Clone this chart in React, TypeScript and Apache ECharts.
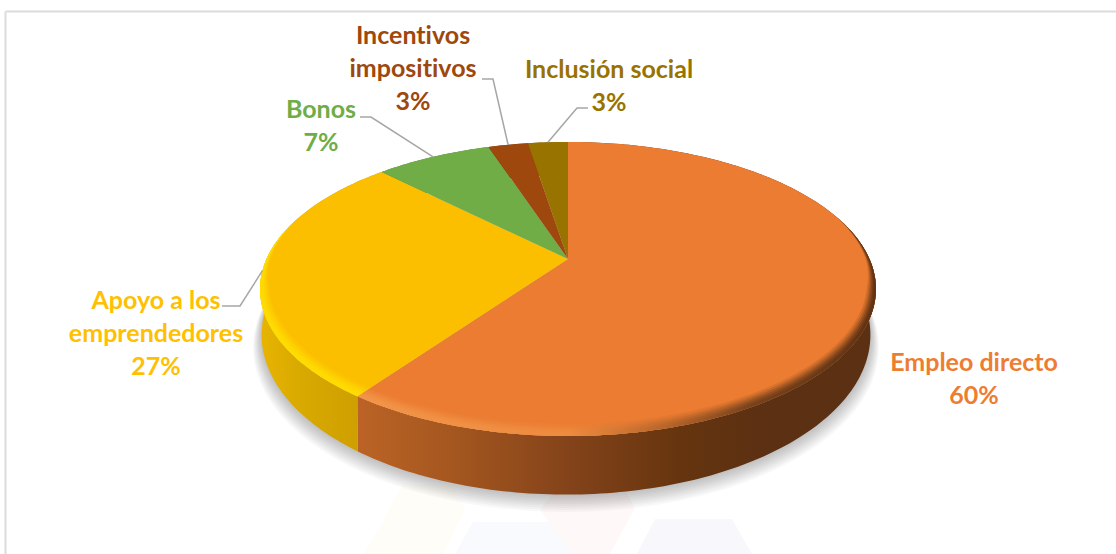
import React, { useEffect, useRef } from "react";
import * as echarts from "echarts";

const categories = ["Empleo directo", "Apoyo a los\nemprendedores", "Bonos", "Incentivos\nimpositivos", "Inclusión social"];
const values = [59.9, 27.6, 7.4, 2.55, 2.55];
const percentLabels = ["60%", "27%", "7%", "3%", "3%"];
const colors = ["#EB7C31", "#FBBF00", "#70AD47", "#9E480E", "#997300"];
const labelColors = ["#ED7D31", "#FFC000", "#70AD47", "#9E480E", "#997300"];

// Layout of the tilted disc: a circle under a perspective map
const CX = 568, TOP_CY = 259, A = 301.5, B = 140.9, K = -0.204;
const BOTTOM_CX = 566, BOTTOM_CY = 302.4, BOTTOM_A = 298, BOTTOM_B = 153;
const FONT = "Lato, Carlito, sans-serif";
const TOTAL = values.reduce((s, v) => s + v, 0);
// Slices run clockwise from 12 o'clock
const starts: number[] = [];
values.reduce((acc, v, i) => { starts[i] = acc; return acc + (v / TOTAL) * 360; }, 0);

const labelPos = [
  { x: 974, y: 377 }, { x: 156, y: 332 }, { x: 321, y: 124 }, { x: 413, y: 67 }, { x: 609, y: 84 },
];
const elbows: (number[][] | null)[] = [
  null,
  [[222, 306], [240, 306]],
  [[360, 117], [371, 117]],
  [[482, 79], [493, 79]],
  [[588, 108], [577, 108]],
];

const wallStops = [
  [[0, "#bb6326"], [0.16, "#bb6326"], [0.31, "#a5571f"], [0.5, "#84431a"], [0.68, "#66350f"], [0.81, "#5c3012"], [1, "#5c3012"]],
  [[0, "#e8b400"], [0.06, "#d9aa00"], [0.16, "#cf9f00"], [1, "#cf9f00"]],
  [[0, "#5a8a38"], [1, "#5a8a38"]],
  [[0, "#7a380b"], [1, "#7a380b"]],
  [[0, "#7a5c00"], [1, "#7a5c00"]],
];
const rimStops = [
  [[0, "#f0924a"], [0.16, "#f2964a"], [0.5, "#ee8c40"], [0.66, "#b5642a"], [0.8, "#74401a"], [1, "#5c3012"]],
  [[0, "#ffdc00"], [1, "#ffdc00"]],
  [[0, "#84c455"], [1, "#84c455"]],
  [[0, "#b0581a"], [1, "#b0581a"]],
  [[0, "#aa8400"], [1, "#aa8400"]],
];
const rimLayers = [[1.0, 0.15], [0.85, 0.2], [0.7, 0.3], [0.55, 0.4], [0.4, 0.55], [0.25, 0.75]];

const rad = (d: number) => (d * Math.PI) / 180;
function topPoint(phi: number, r: number) {
  const x = r * Math.sin(rad(phi));
  const y = -r * Math.cos(rad(phi));
  const d = 1 + K * y;
  return [CX + (A * x) / d, TOP_CY + (B * y) / d];
}
function bottomPoint(phi: number, r: number) {
  const x = r * Math.sin(rad(phi));
  const y = -r * Math.cos(rad(phi));
  const d = 1 + K * y;
  return [BOTTOM_CX + (BOTTOM_A * x) / d, BOTTOM_CY + (BOTTOM_B * y) / d];
}
function arcAngles(a0: number, a1: number, stepDeg = 1) {
  const n = Math.max(2, Math.ceil((a1 - a0) / stepDeg));
  const out: number[] = [];
  for (let i = 0; i <= n; i++) out.push(a0 + ((a1 - a0) * i) / n);
  return out;
}
const hGrad = (stops: any[]) => ({
  type: "linear", x: 260, y: 0, x2: 876, y2: 0, global: true,
  colorStops: stops.map(([offset, color]) => ({ offset, color })),
});

function rimWidth(phi: number) {
  const y = -Math.cos(rad(phi));
  const t = Math.min(1, Math.max(0, (y + 0.3) / 0.5));
  return t * (0.022 + 0.035 * Math.max(0, y));
}

function renderShadow() {
  const children: any[] = [];
  for (let j = 9; j >= 1; j--) {
    const pts = arcAngles(0, 360, 3).map((p) => {
      const q = bottomPoint(p, 1 + j * 0.003);
      return [q[0], q[1] + j * 1.2];
    });
    children.push({ type: "polygon", shape: { points: pts }, style: { fill: "rgba(0,0,0,0.028)" } });
  }
  return { type: "group", children };
}

function renderWall(params: any, api: any) {
  const i = params.dataIndex;
  const a0 = starts[i];
  const a1 = a0 + (api.value(0) / TOTAL) * 360;
  const angles = arcAngles(a0, a1);
  const pts = [...angles.map((p) => topPoint(p, 1)), ...angles.slice().reverse().map((p) => bottomPoint(p, 1))];
  return { type: "polygon", shape: { points: pts }, style: { fill: hGrad(wallStops[i]) } };
}

function renderTop(params: any, api: any) {
  const i = params.dataIndex;
  const a0 = starts[i];
  const a1 = a0 + (api.value(0) / TOTAL) * 360;
  const mid = (a0 + a1) / 2;
  const angles = arcAngles(a0, a1);
  const children: any[] = [];
  children.push({
    type: "polygon",
    shape: { points: [[CX, TOP_CY], ...angles.map((p) => topPoint(p, 1))] },
    style: { fill: colors[i] },
  });
  rimLayers.forEach(([w, opacity]) => {
    const outer = angles.map((p) => topPoint(p, 1));
    const inner = angles.slice().reverse().map((p) => topPoint(p, 1 - rimWidth(p) * w));
    children.push({
      type: "polygon",
      shape: { points: [...outer, ...inner] },
      style: { fill: hGrad(rimStops[i]), opacity },
    });
  });
  const elbow = elbows[i];
  if (elbow) {
    children.push({
      type: "polyline",
      shape: { points: [...elbow, topPoint(mid, 1)] },
      style: { stroke: "#a6a6a6", lineWidth: 1.5, fill: "none" },
    });
  }
  children.push({
    type: "text",
    x: labelPos[i].x,
    y: labelPos[i].y,
    style: {
      text: `${categories[i]}\n${percentLabels[i]}`,
      fill: labelColors[i],
      font: `bold 25px ${FONT}`,
      lineHeight: 33,
      align: "center",
      verticalAlign: "middle",
    },
  });
  return { type: "group", children };
}

const watermark: { pts: number[][]; fill: string }[] = [
  { pts: [[390, 507], [403, 485], [452, 485], [465, 508], [443, 554], [363, 554], [382, 523]], fill: "#fffdf8" },
  { pts: [[455, 554], [473, 522], [553, 522], [573, 554]], fill: "#f9fafd" },
  { pts: [[540, 510], [555, 490], [625, 490], [635, 508], [610, 554], [573, 554]], fill: "#fef9f8" },
  { pts: [[637, 554], [655, 519], [732, 519], [752, 554]], fill: "#f8f7fb" },
];

export default function App() {
  const ref = useRef<HTMLDivElement>(null);
  useEffect(() => {
    document.body.style.margin = "0";
    const css = document.createElement("style");
    css.textContent = "svg text { font-variant-ligatures: none !important; }";
    document.head.appendChild(css);
    const chart = echarts.init(ref.current!, null, { renderer: "svg" });
    const data = values.map((v, i) => ({ value: v, name: categories[i] }));
    chart.setOption({
      animation: false,
      backgroundColor: "#ffffff",
      graphic: [
        { type: "line", shape: { x1: 5.5, y1: 11.5, x2: 1116, y2: 11.5 }, style: { stroke: "#dcdcdc", lineWidth: 2 }, z: 0 },
        { type: "line", shape: { x1: 5.5, y1: 11.5, x2: 5.5, y2: 554 }, style: { stroke: "#dcdcdc", lineWidth: 2 }, z: 0 },
        ...watermark.map((w) => ({ type: "polygon", shape: { points: w.pts }, style: { fill: w.fill }, z: 0 })),
      ],
      series: [
        { type: "custom", coordinateSystem: "none", silent: true, z: 2, data: [100], renderItem: renderShadow },
        { type: "custom", coordinateSystem: "none", silent: true, z: 3, data, renderItem: renderWall },
        { type: "custom", coordinateSystem: "none", silent: true, z: 4, data, renderItem: renderTop },
      ],
    });
    return () => {
      chart.dispose();
      css.remove();
    };
  }, []);
  return <div ref={ref} style={{ width: 1116, height: 554 }} />;
}
